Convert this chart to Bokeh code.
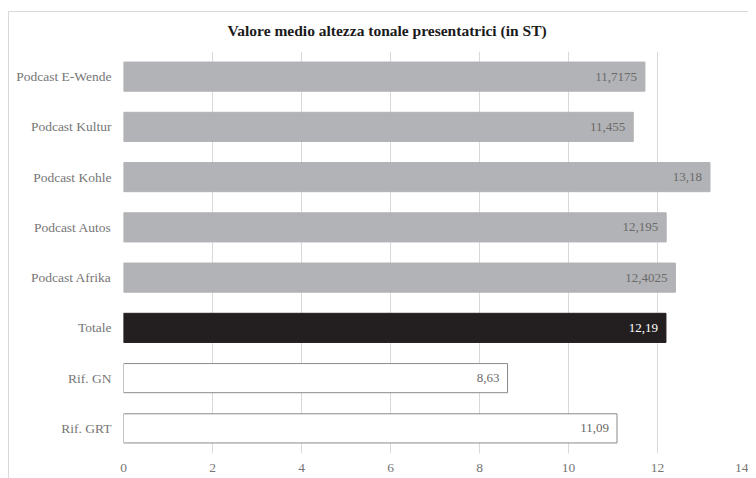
from bokeh.plotting import figure
from bokeh.models import FactorRange, Range1d, FixedTicker, ColumnDataSource, Title
from bokeh.core.properties import value
from bokeh.embed import file_html
from bokeh.resources import INLINE

categories = ["Podcast E-Wende", "Podcast Kultur", "Podcast Kohle", "Podcast Autos",
              "Podcast Afrika", "Totale", "Rif. GN", "Rif. GRT"]
values = [11.7175, 11.455, 13.18, 12.195, 12.4025, 12.19, 8.63, 11.09]
x_ticks = [0, 2, 4, 6, 8, 10, 12, 14]

fills = ["#b2b3b6"] * 5 + ["#231f20", "#ffffff", "#ffffff"]
lines = ["#b2b3b6"] * 5 + ["#231f20", "#8a8a8a", "#8a8a8a"]
text_colors = ["#6a6a6a"] * 5 + ["#ffffff", "#6a6a6a", "#6a6a6a"]
labels = [str(v).replace(".", ",") for v in values]

src = ColumnDataSource(dict(cat=categories, val=values, fill=fills, line=lines,
                            tcol=text_colors, lab=labels))

FONT = "'Liberation Serif', 'Times New Roman', serif"

p = figure(width=748, height=478, output_backend="svg", toolbar_location=None,
           y_range=FactorRange(*reversed(categories)), x_range=Range1d(0, 14),
           min_border_left=123, min_border_right=2, min_border_top=51, min_border_bottom=25)
p.border_fill_color = None
p.background_fill_color = "#ffffff"
p.styles = {
    "background-color": "#ffffff",
    "background-image": "linear-gradient(#d9d9d9, #d9d9d9), linear-gradient(#d9d9d9, #d9d9d9)",
    "background-size": "1px 100%, 100% 1px",
    "background-position": "8px 11px, 8px 11px",
    "background-repeat": "no-repeat",
}

p.hbar(y="cat", right="val", left=0, height=0.58, source=src,
       fill_color="fill", line_color="line", line_width=1)
p.text(x="val", y="cat", text="lab", source=src, x_offset=-8,
       text_align="right", text_baseline="middle", text_color="tcol",
       text_font=value(FONT), text_font_size="13px")

t = Title(text="Valore medio altezza tonale presentatrici (in ST)", align="left",
          offset=104, text_font=FONT, text_font_size="15.5px", text_font_style="bold",
          text_color="#1a1a1a", standoff=25)
p.add_layout(t, "above")

p.outline_line_color = None
p.ygrid.grid_line_color = None
p.xgrid.grid_line_color = "#d9d9d9"
p.xaxis.ticker = FixedTicker(ticks=x_ticks)
for ax in (p.xaxis[0], p.yaxis[0]):
    ax.axis_line_color = None
    ax.major_tick_line_color = None
    ax.minor_tick_line_color = None
    ax.major_tick_out = 0
    ax.major_tick_in = 0
    ax.major_label_text_font = FONT
    ax.major_label_text_font_size = "13.5px"
    ax.major_label_text_color = "#767676"
p.xaxis.major_label_standoff = 10
p.yaxis.major_label_standoff = 12

open("out.html", "w").write(file_html(p, INLINE))
